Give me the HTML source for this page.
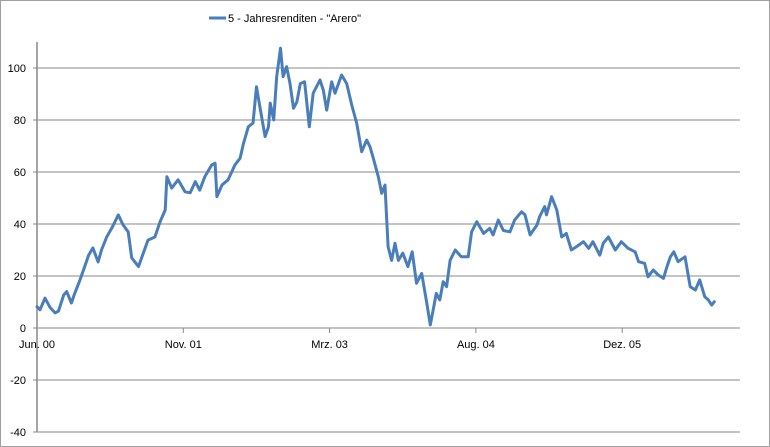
<!DOCTYPE html>
<html><head><meta charset="utf-8">
<style>
html,body{margin:0;padding:0;background:#fff}
svg{display:block;font-family:"Liberation Sans",sans-serif}
</style></head>
<body>
<svg id="chart" width="770" height="447" viewBox="0 0 770 447" xmlns="http://www.w3.org/2000/svg">
<rect x="0.5" y="0.5" width="769" height="446" fill="#fff" stroke="#a0a0a0"/>
<g id="grid"></g>
<g id="yaxis"></g>
<g id="xaxis"></g>
<g id="series"></g>
<g>
<line x1="209" y1="18" x2="226" y2="18" stroke="#4a7ebb" stroke-width="3"/>
<text x="228" y="22" font-size="11" fill="#000" textLength="133">5 - Jahresrenditen - "Arero"</text>
</g>
</svg>
<script>
const yTicks = [-40,-20,0,20,40,60,80,100];
const xTickLabels = ["Jun. 00","Nov. 01","Mrz. 03","Aug. 04","Dez. 05"];
const xTickMonths = [0,17,34,51,68];
const months = [0,0.35,0.93,1.5,2.1,2.5,3.1,3.45,4.0,4.4,5.0,5.4,6.0,6.5,7.1,7.5,8.1,8.7,9.45,10.0,10.6,11.0,11.8,12.35,12.9,13.7,14.3,14.9,15.1,15.65,16.4,17.2,17.8,18.4,18.9,19.5,20.3,20.7,20.9,21.5,22.2,23.0,23.6,24.0,24.55,25.1,25.5,25.9,26.5,26.9,27.1,27.5,27.85,28.3,28.6,29.0,29.4,29.8,30.2,30.6,31.1,31.64,32.1,32.88,33.27,33.66,34.24,34.63,35.4,35.99,36.57,37.15,37.73,38.31,38.69,39.08,39.66,40.05,40.44,
40.6,40.8,41.2,41.6,42.0,42.5,43.1,43.6,44.1,44.7,45.3,45.7,46.4,46.8,47.2,47.6,48.0,48.6,49.3,50.1,50.5,51.1,51.9,52.6,53.0,53.6,54.2,54.96,55.5,56.3,56.7,57.3,58.1,58.4,59.0,59.2,59.8,60.4,60.97,61.5,62.1,62.7,63.5,64.1,64.6,65.4,65.8,66.4,67.2,67.9,68.7,69.5,69.9,70.6,71.0,71.6,72.2,72.8,73.2,73.6,74.0,74.5,75.3,75.9,76.5,77.0,77.6,78.0,78.4,78.7];
const values = [8.2,7,11.5,8,5.8,6.5,12.7,14,9.6,13.5,18.5,22.3,28,30.8,25.4,30,35,38.5,43.5,39.6,37,27,23.6,28.8,33.8,35,40.9,45.4,58.2,53.8,57,52.4,52,56.3,53,58.2,62.7,63.4,50.5,55,57,62.7,65.3,71,77.4,78.8,92.8,85,73.6,77.4,86.5,80,96.7,107.6,96.7,100.5,94,84.5,87,94,94.7,77.4,90.3,95.4,91.5,83.8,94.7,90.3,97.3,94,85.8,78.8,67.8,72.3,69.7,65.3,58.2,51.8,55,
44,31.3,26,32.6,26,28.8,23.6,29.3,17.2,21,9.5,1.2,13.3,10.8,17.8,15.9,26,30,27.4,27.4,37,40.9,36.4,38.3,35.8,41.5,37.5,37,41.5,44.7,43.5,35.8,39.6,42.8,46.7,43.5,50.5,45.4,35,36.4,30,31.3,33.2,30.6,33.2,28,32.6,35,30,33.2,30.6,29.3,25.5,24.9,19.7,22.3,20.4,19.1,23.6,27.4,29.3,25.5,27.4,15.9,14.6,18.5,12,10.8,8.8,10.1];

const NS="http://www.w3.org/2000/svg";
const X0=37, XR=740, PX_PER_MONTH=146.3/17;
const Y0=328, PX_PER_UNIT=2.6;
function xs(m){return X0+m*PX_PER_MONTH;}
function ys(v){return Y0-v*PX_PER_UNIT;}
function mk(tag,attrs,parent){const e=document.createElementNS(NS,tag);for(const k in attrs)e.setAttribute(k,attrs[k]);parent.appendChild(e);return e;}

const grid=document.getElementById('grid');
const yaxis=document.getElementById('yaxis');
const xaxis=document.getElementById('xaxis');
const series=document.getElementById('series');

yTicks.forEach(v=>{
  const g=mk('line',{x1:X0,x2:XR,y1:ys(v),y2:ys(v),stroke:'#888','stroke-width':1},grid);
  
  
  const t=mk('line',{x1:X0-4,x2:X0,y1:ys(v),y2:ys(v),stroke:'#888'},yaxis);
  
  
  const l=mk('text',{x:26,y:ys(v)+4,'text-anchor':'end','font-size':'11',fill:'#000'},yaxis);
  l.textContent=v;
  
  
});
const ax=mk('line',{x1:X0,x2:X0,y1:ys(110),y2:ys(-40),stroke:'#888','stroke-width':1.5},yaxis);



xTickMonths.forEach((m,i)=>{
  const t=mk('line',{x1:xs(m),x2:xs(m),y1:Y0,y2:Y0+5,stroke:'#888'},xaxis);
  
  
  const l=mk('text',{x:xs(m),y:Y0+20,'text-anchor':'middle','font-size':'11',fill:'#000'},xaxis);
  l.textContent=xTickLabels[i];
  
  
});

const n=Math.min(months.length,values.length);
let d='';
for(let i=0;i<n;i++){d+=(i?'L':'M')+xs(months[i]).toFixed(1)+','+ys(values[i]).toFixed(1)+' ';}
const p=mk('path',{d:d,fill:'none',stroke:'#4a7ebb','stroke-width':3,'stroke-linejoin':'round','stroke-linecap':'round'},series);


</script>
</body></html>
